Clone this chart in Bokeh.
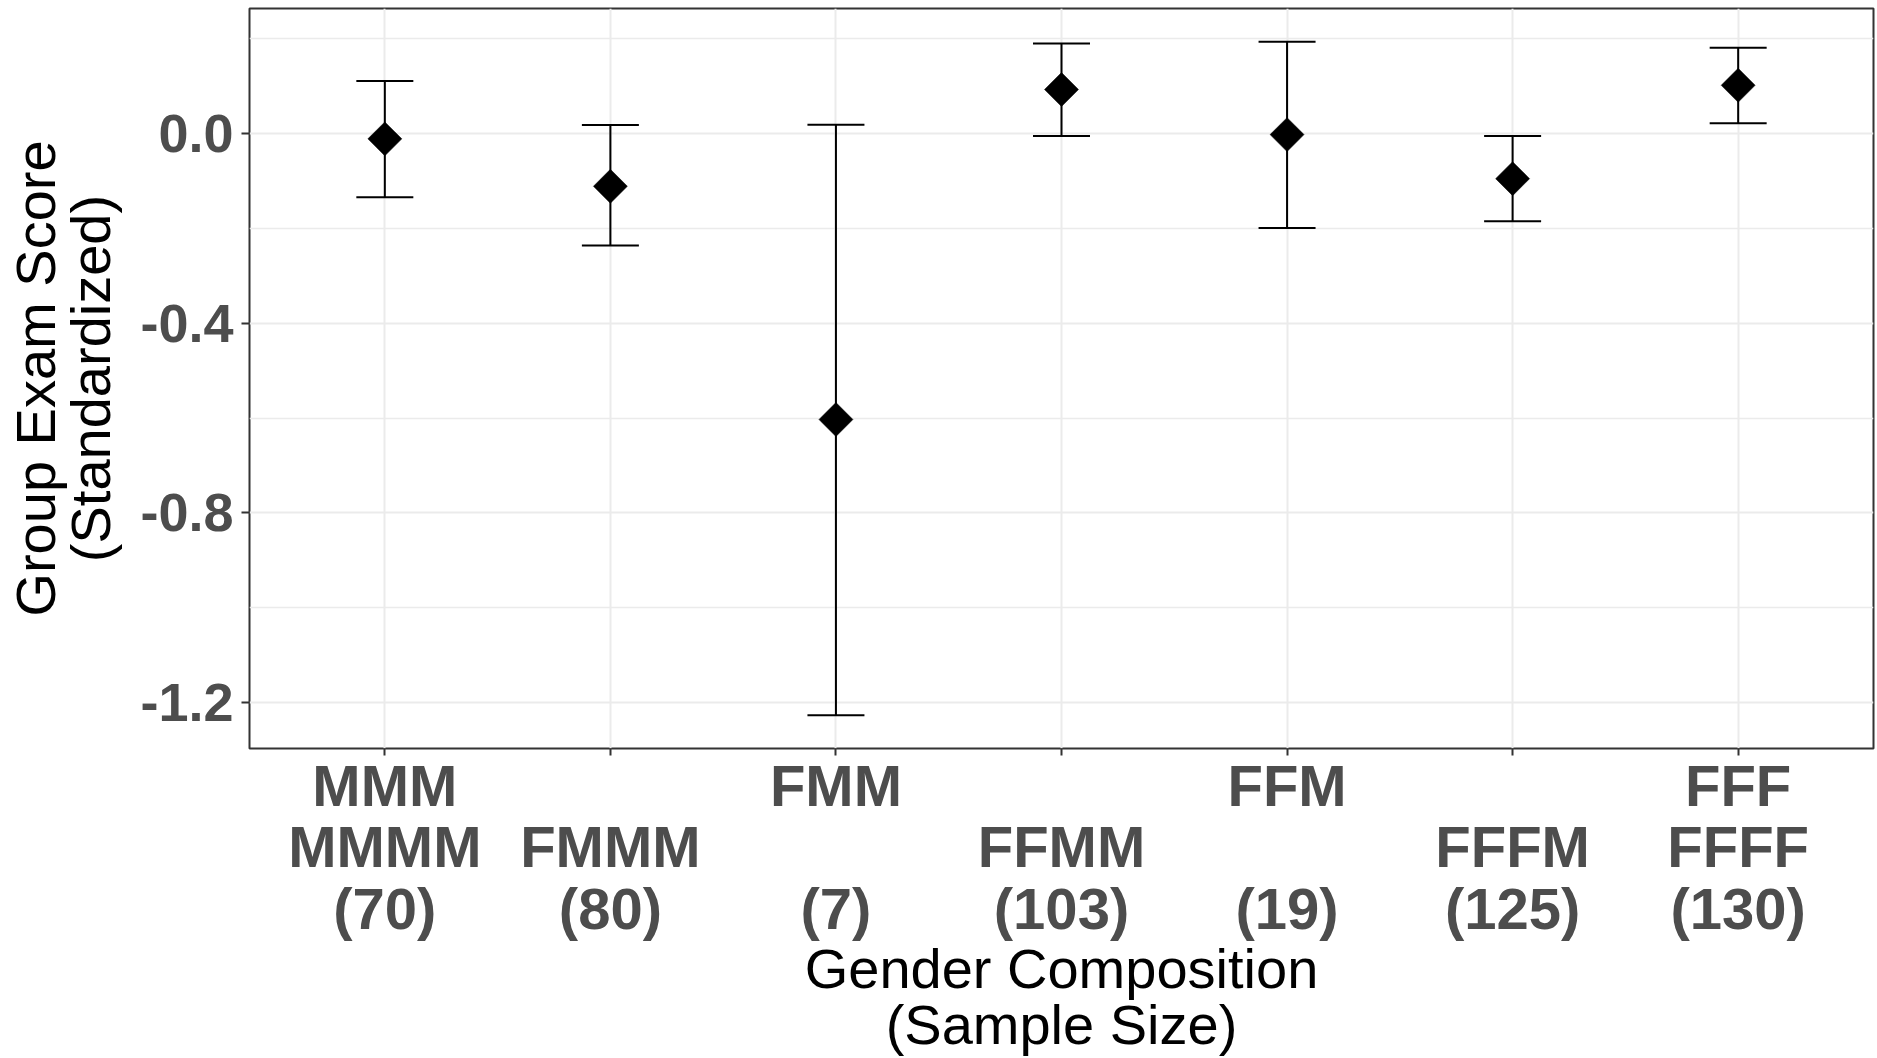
from bokeh.plotting import figure
from bokeh.models import (FactorRange, Range1d, FixedTicker, PrintfTickFormatter,
                          ColumnDataSource, Whisker, TeeHead)
from bokeh.embed import file_html
from bokeh.resources import INLINE

# ---- data ----
group_line1 = ["MMM", " ", "FMM", " ", "FFM", " ", "FFF"]
group_line2 = ["MMMM", "FMMM", " ", "FFMM", " ", "FFFM", "FFFF"]
sample_size = [70, 80, 7, 103, 19, 125, 130]
mean_score = [-0.011, -0.111, -0.603, 0.093, -0.002, -0.095, 0.102]
lower_ci = [-0.134, -0.236, -1.227, -0.005, -0.199, -0.185, 0.022]
upper_ci = [0.111, 0.018, 0.019, 0.190, 0.194, -0.005, 0.181]
y_ticks = [-1.2, -0.8, -0.4, 0.0]
y_minor = [-1.0, -0.6, -0.2, 0.2]

labels = [f"{a}\n{b}\n({n})" for a, b, n in zip(group_line1, group_line2, sample_size)]

src = ColumnDataSource(dict(x=labels, mean=mean_score, lower=lower_ci, upper=upper_ci))

FONT = "Liberation Sans"

p = figure(width=1877, height=1058, output_backend="svg", toolbar_location=None,
           x_range=FactorRange(factors=labels, range_padding=0.1,
                               range_padding_units="absolute"),
           y_range=Range1d(-1.297, 0.264),
           min_border_left=249, min_border_right=4, min_border_top=8,
           min_border_bottom=0)

p.background_fill_color = "white"
p.border_fill_color = "white"
p.outline_line_color = "#333333"
p.outline_line_width = 2

# grids
p.xgrid.grid_line_color = "#ebebeb"
p.xgrid.grid_line_width = 2
p.ygrid.grid_line_color = "#ebebeb"
p.ygrid.grid_line_width = 2
p.ygrid.minor_grid_line_color = "#ebebeb"
p.ygrid.minor_grid_line_width = 1.5

# y axis
p.yaxis.ticker = FixedTicker(ticks=y_ticks, minor_ticks=y_minor)
p.yaxis.formatter = PrintfTickFormatter(format="%.1f")
p.yaxis.axis_line_color = None
p.yaxis.major_tick_in = 0
p.yaxis.major_tick_out = 8
p.yaxis.major_tick_line_color = "#333333"
p.yaxis.major_tick_line_width = 2
p.yaxis.minor_tick_line_color = None
p.yaxis.major_label_text_font = FONT
p.yaxis.major_label_text_font_style = "bold"
p.yaxis.major_label_text_font_size = "54px"
p.yaxis.major_label_text_color = "#4d4d4d"
p.yaxis.major_label_standoff = 8
p.yaxis.axis_label = "Group Exam Score\n(Standardized)"
p.yaxis.axis_label_text_font = FONT
p.yaxis.axis_label_text_font_style = "normal"
p.yaxis.axis_label_text_font_size = "56px"
p.yaxis.axis_label_text_color = "black"
p.yaxis.axis_label_text_line_height = 0.885
p.yaxis.axis_label_standoff = 15

# x axis
p.xaxis.axis_line_color = None
p.xaxis.major_tick_in = 0
p.xaxis.major_tick_out = 7
p.xaxis.major_tick_line_color = "#333333"
p.xaxis.major_tick_line_width = 2
p.xaxis.minor_tick_line_color = None
p.xaxis.major_label_text_font = FONT
p.xaxis.major_label_text_font_style = "bold"
p.xaxis.major_label_text_font_size = "58px"
p.xaxis.major_label_text_color = "#4d4d4d"
p.xaxis.major_label_text_line_height = 0.95
p.xaxis.major_label_standoff = -3
p.xaxis.major_label_orientation = "horizontal"
p.xaxis.axis_label = "Gender Composition\n(Sample Size)"
p.xaxis.axis_label_text_font = FONT
p.xaxis.axis_label_text_font_style = "normal"
p.xaxis.axis_label_text_font_size = "56px"
p.xaxis.axis_label_text_color = "black"
p.xaxis.axis_label_text_line_height = 0.885
p.xaxis.axis_label_standoff = -7

# error bars
w = Whisker(source=src, base="x", lower="lower", upper="upper",
            line_color="black", line_width=2,
            upper_head=TeeHead(size=57, line_color="black", line_width=2),
            lower_head=TeeHead(size=57, line_color="black", line_width=2))
p.add_layout(w)

# points
p.scatter(x="x", y="mean", source=src, marker="square", angle=0.7853981634,
          size=24, fill_color="black", line_color="black", line_width=0.5)

open("out.html", "w").write(file_html(p, INLINE))
